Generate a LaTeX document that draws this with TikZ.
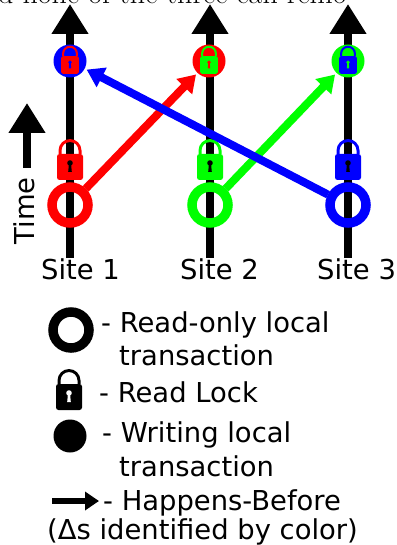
\documentclass[tikz,border=0pt]{standalone}
\usepackage{fontspec}
\setsansfont{DejaVu Sans}
\usepackage{xcolor}
\usetikzlibrary{positioning,arrows.meta}
\tikzset{
    pics/padlock/.style 2 args={code={
        \fill[#1, rounded corners=2.5pt] (-13,-13) rectangle (13,13);
        \fill[#1] (-11.5,-13) -- (-11.5,-16.5) arc (180:360:11.5) -- (11.5,-13) -- (8.5,-13) -- (8.5,-16.5) arc (360:180:8.5) -- (-8.5,-13) -- cycle;
        \fill[#2] (0,-4) circle (2.8);
        \fill[#2] (-1,-4) -- (1,-4) -- (1.8,5) -- (-1.8,5) -- cycle;
    }}
}
\begin{document}
\begin{tikzpicture}[x=1pt, y=-1pt, node distance=139pt,
    siteline/.style={line width=7.5pt, -{Triangle[length=30pt,width=35pt]}},
    hb/.style={line width=8pt, -{Triangle[length=17pt,width=21pt]}, shorten >=2pt},
    ring/.style={circle, draw=#1, line width=9.5pt, minimum size=36pt, inner sep=0pt, outer sep=4.5pt},
    dot/.style={circle, fill=#1, minimum size=33pt, inner sep=0pt},
    txt/.style={font=\sffamily\fontsize{27.4}{32}\selectfont, inner sep=0pt, anchor=base west}]
    \useasboundingbox (0,0) rectangle (396,545);
    \clip (0,0) rectangle (396,545);

    % clipped line of the page above
    \node[font=\fontsize{30}{36}\selectfont, inner sep=0pt, anchor=base west] (cuttext) at (-2,4) {d none of the three can remo};

    % Site lines
    \coordinate (baseA) at (70,258);
    \coordinate (baseB) at (210,258);
    \coordinate (baseC) at (348,258);
    \coordinate (endA) at (70,4);
    \coordinate (endB) at (210,4);
    \coordinate (endC) at (348,4);
    \draw[siteline] (baseA) -- (endA);
    \draw[siteline] (baseB) -- (endB);
    \draw[siteline] (baseC) -- (endC);

    % Writes at the top
    \node[dot=blue] (dotA) at (70,61) {};
    \node[dot=red] (dotB) at (209,61) {};
    \node[dot=green] (dotC) at (348,61) {};
    \pic at (70,65) [scale=0.69] {padlock={red}{blue}};
    \pic at (209,65) [scale=0.69] {padlock={green}{red}};
    \pic at (348,65) [scale=0.69] {padlock={blue}{green}};

    % Read-only transactions and their locks
    \node[ring=red] (ringA) at (70,205) {};
    \node[ring=green] (ringB) at (210,205) {};
    \node[ring=blue] (ringC) at (348,205) {};
    \pic at (70,167) {padlock={red}{black}};
    \pic at (210,167) {padlock={green}{black}};
    \pic at (348,167) {padlock={blue}{black}};

    % Happens-before
    \draw[hb, red] (ringA) -- (dotB);
    \draw[hb, green] (ringB) -- (dotC);
    \draw[hb, blue] (ringC) -- (dotA);

    % Time
    \coordinate (timeS) at (27,168);
    \coordinate (timeE) at (27,103);
    \draw[line width=7.5pt, -{Triangle[length=30pt,width=35pt]}] (timeS) -- (timeE);
    \node[txt, anchor=center, rotate=90] (timelabel) at (24,211) {Time};

    \node[txt] (siteA) at (41,279) {Site 1};
    \node[txt] (siteB) at (180,279) {Site 2};
    \node[txt] (siteC) at (317,279) {Site 3};

    % Legend
    \node[ring=black] (keyring) at (71,330) {};
    \pic at (69,397) {padlock={black}{white}};
    \node[dot=black] (keydot) at (70,436) {};
    \coordinate (keyS) at (52,501);
    \coordinate (keyE) at (99,501);
    \draw[line width=6.5pt, -{Triangle[length=14pt,width=18pt]}] (keyS) -- (keyE);

    \node[txt] (readonly) at (101,332) {- Read-only local};
    \node[txt] (readonlyb) at (119,365) {transaction};
    \node[txt] (readlock) at (99,402) {- Read Lock};
    \node[txt] (writing) at (102,442) {- Writing local};
    \node[txt] (writingb) at (119,476) {transaction};
    \node[txt] (happens) at (103,510) {- Happens-Before};
    \node[txt] (deltas) at (47,539) {(Δs identified by color)};
\end{tikzpicture}
\end{document}
